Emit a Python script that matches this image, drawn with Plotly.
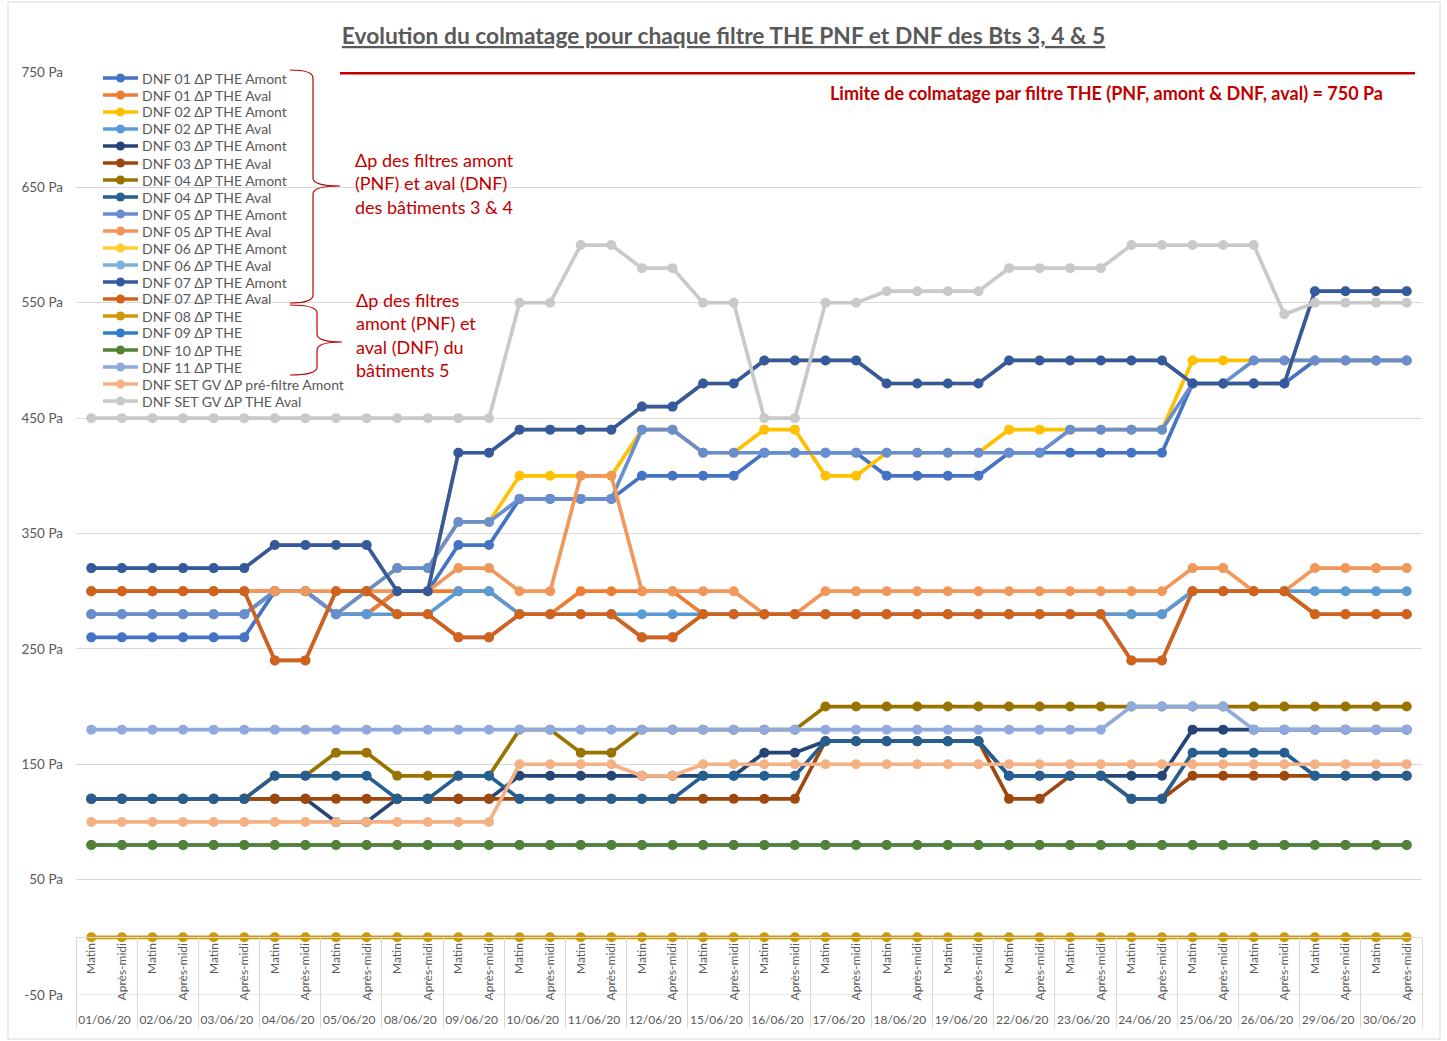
import plotly.graph_objects as go

# categories
dates = ['01/06/20', '02/06/20', '03/06/20', '04/06/20', '05/06/20', '08/06/20', '09/06/20',
         '10/06/20', '11/06/20', '12/06/20', '15/06/20', '16/06/20', '17/06/20', '18/06/20',
         '19/06/20', '22/06/20', '23/06/20', '24/06/20', '25/06/20', '26/06/20', '29/06/20',
         '30/06/20']
periods = ['Matin', 'Après-midi']

# delta P values (Pa), one value per half-day
dnf01_amont = [260, 260, 260, 260, 260, 260, 300, 300, 280, 280, 300, 300, 340, 340, 380, 380,
               380, 380, 400, 400, 400, 400, 420, 420, 420, 420, 400, 400, 400, 400, 420, 420,
               420, 420, 420, 420, 480, 480, 480, 480, 500, 500, 500, 500]
dnf01_aval = [300, 300, 300, 300, 300, 300, 300, 300, 280, 280, 300, 300, 300, 300, 280, 280,
              300, 300, 300, 300, 280, 280, 280, 280, 280, 280, 280, 280, 280, 280, 280, 280,
              280, 280, 280, 280, 300, 300, 300, 300, 280, 280, 280, 280]
dnf02_amont = [280, 280, 280, 280, 280, 280, 300, 300, 280, 300, 320, 320, 360, 360, 400, 400,
               400, 400, 440, 440, 420, 420, 440, 440, 400, 400, 420, 420, 420, 420, 440, 440,
               440, 440, 440, 440, 500, 500, 500, 500, 500, 500, 500, 500]
dnf02_aval = [280, 280, 280, 280, 280, 280, 300, 300, 280, 280, 280, 280, 300, 300, 280, 280,
              280, 280, 280, 280, 280, 280, 280, 280, 280, 280, 280, 280, 280, 280, 280, 280,
              280, 280, 280, 280, 300, 300, 300, 300, 300, 300, 300, 300]
dnf03_amont = [120, 120, 120, 120, 120, 120, 120, 120, 100, 100, 120, 120, 120, 120, 140, 140,
               140, 140, 140, 140, 140, 140, 160, 160, 170, 170, 170, 170, 170, 170, 140, 140,
               140, 140, 140, 140, 180, 180, 180, 180, 180, 180, 180, 180]
dnf03_aval = [120, 120, 120, 120, 120, 120, 120, 120, 120, 120, 120, 120, 120, 120, 120, 120,
              120, 120, 120, 120, 120, 120, 120, 120, 170, 170, 170, 170, 170, 170, 120, 120,
              140, 140, 120, 120, 140, 140, 140, 140, 140, 140, 140, 140]
dnf04_amont = [120, 120, 120, 120, 120, 120, 140, 140, 160, 160, 140, 140, 140, 140, 180, 180,
               160, 160, 180, 180, 180, 180, 180, 180, 200, 200, 200, 200, 200, 200, 200, 200,
               200, 200, 200, 200, 200, 200, 200, 200, 200, 200, 200, 200]
dnf04_aval = [120, 120, 120, 120, 120, 120, 140, 140, 140, 140, 120, 120, 140, 140, 120, 120,
              120, 120, 120, 120, 140, 140, 140, 140, 170, 170, 170, 170, 170, 170, 140, 140,
              140, 140, 120, 120, 160, 160, 160, 160, 140, 140, 140, 140]
dnf05_amont = [280, 280, 280, 280, 280, 280, 300, 300, 280, 300, 320, 320, 360, 360, 380, 380,
               380, 380, 440, 440, 420, 420, 420, 420, 420, 420, 420, 420, 420, 420, 420, 420,
               440, 440, 440, 440, 480, 480, 500, 500, 500, 500, 500, 500]
dnf05_aval = [300, 300, 300, 300, 300, 300, 300, 300, 300, 300, 300, 300, 320, 320, 300, 300,
              400, 400, 300, 300, 300, 300, 280, 280, 300, 300, 300, 300, 300, 300, 300, 300,
              300, 300, 300, 300, 320, 320, 300, 300, 320, 320, 320, 320]
dnf06_amont = [320, 320, 320, 320, 320, 320, 340, 340, 340, 340, 300, 300, 420, 420, 440, 440,
               440, 440, 460, 460, 480, 480, 500, 500, 500, 500, 480, 480, 480, 480, 500, 500,
               500, 500, 500, 500, 480, 480, 480, 480, 560, 560, 560, 560]
dnf06_aval = [300, 300, 300, 300, 300, 300, 240, 240, 300, 300, 280, 280, 260, 260, 280, 280,
              280, 280, 260, 260, 280, 280, 280, 280, 280, 280, 280, 280, 280, 280, 280, 280,
              280, 280, 240, 240, 300, 300, 300, 300, 280, 280, 280, 280]
dnf07_amont = [320, 320, 320, 320, 320, 320, 340, 340, 340, 340, 300, 300, 420, 420, 440, 440,
               440, 440, 460, 460, 480, 480, 500, 500, 500, 500, 480, 480, 480, 480, 500, 500,
               500, 500, 500, 500, 480, 480, 480, 480, 560, 560, 560, 560]
dnf07_aval = [300, 300, 300, 300, 300, 300, 240, 240, 300, 300, 280, 280, 260, 260, 280, 280,
              280, 280, 260, 260, 280, 280, 280, 280, 280, 280, 280, 280, 280, 280, 280, 280,
              280, 280, 240, 240, 300, 300, 300, 300, 280, 280, 280, 280]
dnf08 = [0, 0, 0, 0, 0, 0, 0, 0, 0, 0, 0, 0, 0, 0, 0, 0, 0, 0, 0, 0, 0, 0,
         0, 0, 0, 0, 0, 0, 0, 0, 0, 0, 0, 0, 0, 0, 0, 0, 0, 0, 0, 0, 0, 0]
dnf09 = [80, 80, 80, 80, 80, 80, 80, 80, 80, 80, 80, 80, 80, 80, 80, 80, 80, 80, 80, 80, 80, 80,
         80, 80, 80, 80, 80, 80, 80, 80, 80, 80, 80, 80, 80, 80, 80, 80, 80, 80, 80, 80, 80, 80]
dnf10 = [80, 80, 80, 80, 80, 80, 80, 80, 80, 80, 80, 80, 80, 80, 80, 80, 80, 80, 80, 80, 80, 80,
         80, 80, 80, 80, 80, 80, 80, 80, 80, 80, 80, 80, 80, 80, 80, 80, 80, 80, 80, 80, 80, 80]
dnf11 = [180, 180, 180, 180, 180, 180, 180, 180, 180, 180, 180, 180, 180, 180, 180, 180,
         180, 180, 180, 180, 180, 180, 180, 180, 180, 180, 180, 180, 180, 180, 180, 180,
         180, 180, 200, 200, 200, 200, 180, 180, 180, 180, 180, 180]
set_gv_prefiltre = [100, 100, 100, 100, 100, 100, 100, 100, 100, 100, 100, 100, 100, 100, 150, 150,
                    150, 150, 140, 140, 150, 150, 150, 150, 150, 150, 150, 150, 150, 150, 150, 150,
                    150, 150, 150, 150, 150, 150, 150, 150, 150, 150, 150, 150]
set_gv_the_aval = [450, 450, 450, 450, 450, 450, 450, 450, 450, 450, 450, 450, 450, 450, 550, 550,
                   600, 600, 580, 580, 550, 550, 450, 450, 550, 550, 560, 560, 560, 560, 580, 580,
                   580, 580, 600, 600, 600, 600, 600, 540, 550, 550, 550, 550]

limit = 750
y_ticks = [-50, 50, 150, 250, 350, 450, 550, 650, 750]

series = [
    ('DNF 01 ΔP THE Amont', dnf01_amont, '#4472C4'),
    ('DNF 01 ΔP THE Aval', dnf01_aval, '#ED7D31'),
    ('DNF 02 ΔP THE Amont', dnf02_amont, '#FFC000'),
    ('DNF 02 ΔP THE Aval', dnf02_aval, '#5B9BD5'),
    ('DNF 03 ΔP THE Amont', dnf03_amont, '#264478'),
    ('DNF 03 ΔP THE Aval', dnf03_aval, '#9E480E'),
    ('DNF 04 ΔP THE Amont', dnf04_amont, '#997300'),
    ('DNF 04 ΔP THE Aval', dnf04_aval, '#255E91'),
    ('DNF 05 ΔP THE Amont', dnf05_amont, '#698ED0'),
    ('DNF 05 ΔP THE Aval', dnf05_aval, '#F1975A'),
    ('DNF 06 ΔP THE Amont', dnf06_amont, '#FFCD33'),
    ('DNF 06 ΔP THE Aval', dnf06_aval, '#7CAFDD'),
    ('DNF 07 ΔP THE Amont', dnf07_amont, '#335AA1'),
    ('DNF 07 ΔP THE Aval', dnf07_aval, '#D2611A'),
    ('DNF 08 ΔP THE', dnf08, '#CC9A06'),
    ('DNF 09 ΔP THE', dnf09, '#2F7EC8'),
    ('DNF 10 ΔP THE', dnf10, '#548235'),
    ('DNF 11 ΔP THE', dnf11, '#8FAADC'),
    ('DNF SET GV ΔP pré-filtre Amont', set_gv_prefiltre, '#F4B183'),
    ('DNF SET GV ΔP THE Aval', set_gv_the_aval, '#C9C9C9'),
]

x_multi = [[d for d in dates for p in periods], [p for d in dates for p in periods]]

FONT = 'Lato, "Open Sans", sans-serif'
GREY = '#595959'
RED = '#C00000'

# plot area in pixels: left 76, right 1422, top 72, bottom 995
L, R, T, B = 76, 1422, 72, 995
def px(x):
    return (x - L) / (R - L)
def py(y):
    return (B - y) / (B - T)

fig = go.Figure()
for name, vals, col in series:
    fig.add_trace(go.Scatter(x=x_multi, y=vals, name=name, mode='lines+markers',
                             line=dict(color=col, width=3.7),
                             marker=dict(color=col, size=10), showlegend=False))

def brace(top, bottom, mid, spine, hook, tip, r=8):
    pts = [
        f'M {px(hook)},{py(top)}',
        f'Q {px(spine)},{py(top)} {px(spine)},{py(top + r)}',
        f'L {px(spine)},{py(mid - r)}',
        f'Q {px(spine)},{py(mid)} {px(tip)},{py(mid)}',
        f'Q {px(spine)},{py(mid)} {px(spine)},{py(mid + r)}',
        f'L {px(spine)},{py(bottom - r)}',
        f'Q {px(spine)},{py(bottom)} {px(hook)},{py(bottom)}',
    ]
    return dict(type='path', xref='paper', yref='paper', path=' '.join(pts),
                line=dict(color=RED, width=1.2))

shapes = [
    dict(type='line', xref='paper', yref='y', x0=0, x1=1, y0=-50, y1=-50,
         line=dict(color='#D9D9D9', width=1), layer='below'),
    dict(type='line', xref='paper', yref='y', x0=px(340), x1=px(1415), y0=limit, y1=limit,
         line=dict(color=RED, width=5)),
    brace(70, 303, 186, 313, 290, 340),
    brace(305, 375, 342, 317, 290, 342),
    dict(type='rect', xref='paper', yref='paper', x0=px(8), x1=px(1440), y0=py(1039), y1=py(2),
         line=dict(color='#D9D9D9', width=1)),
]

annotations = [
    dict(text='<b>Limite de colmatage par filtre THE (PNF, amont & DNF, aval) = 750 Pa</b>',
         xref='paper', yref='paper', x=px(1385), y=py(93), xanchor='right', yanchor='middle',
         showarrow=False, font=dict(family=FONT, size=18, color=RED)),
    dict(text='Δp des filtres amont<br>(PNF) et aval (DNF)<br>des bâtiments 3 & 4',
         xref='paper', yref='paper', x=px(353), y=py(147), xanchor='left', yanchor='top',
         align='left', showarrow=False, font=dict(family=FONT, size=18, color=RED)),
    dict(text='Δp des filtres<br>amont (PNF) et<br>aval (DNF) du<br>bâtiments 5',
         xref='paper', yref='paper', x=px(354), y=py(287), xanchor='left', yanchor='top',
         align='left', showarrow=False, font=dict(family=FONT, size=18, color=RED)),
]

# hand-drawn legend, rows 17 px apart like the original
for i, (name, vals, col) in enumerate(series):
    yy = 78 + 17 * i
    shapes.append(dict(type='line', xref='paper', yref='paper', x0=px(103), x1=px(138),
                       y0=py(yy), y1=py(yy), line=dict(color=col, width=3.5)))
    shapes.append(dict(type='circle', xref='paper', yref='paper', x0=px(116), x1=px(125),
                       y0=py(yy + 4.5), y1=py(yy - 4.5), fillcolor=col, line=dict(width=0)))
    annotations.append(dict(text=name, xref='paper', yref='paper', x=px(140), y=py(yy),
                            xanchor='left', yanchor='middle', showarrow=False,
                            font=dict(family=FONT, size=14, color=GREY)))

fig.update_layout(
    width=1447, height=1041,
    margin=dict(l=L, r=1447 - R, t=T, b=1041 - B),
    paper_bgcolor='white', plot_bgcolor='white',
    font=dict(family=FONT, color=GREY),
    showlegend=False,
    title=dict(text='<b><u>Evolution du colmatage pour chaque filtre THE PNF et DNF des Bts 3, 4 & 5</u></b>',
               x=0.5, xref='container', xanchor='center', y=1 - 36 / 1041, yref='container',
               yanchor='middle', font=dict(family=FONT, size=22.8, color=GREY)),
    yaxis=dict(range=[-50, 750], tickvals=y_ticks, ticktext=[f'{v} Pa' for v in y_ticks],
               showgrid=True, gridcolor='#D9D9D9', gridwidth=1, zeroline=False, showline=False,
               ticks='', ticklabelstandoff=12, automargin=False,
               tickfont=dict(family=FONT, size=13.5, color=GREY)),
    xaxis=dict(type='multicategory', anchor='free', position=50 / 800, showline=True,
               range=[-0.5, len(x_multi[0]) - 0.5], automargin=False,
               linecolor='#D9D9D9', linewidth=1, showgrid=False, tickangle=-90,
               tickfont=dict(family=FONT, size=12, color=GREY), showdividers=True,
               dividercolor='#D9D9D9', dividerwidth=1),
    shapes=shapes,
    annotations=annotations,
    hovermode='closest',
)

# page body has a default 8px margin; drop it so the chart sits at the window origin
fig.write_html('out.html', config={'displayModeBar': False},
               post_script="document.body.style.margin='0px';")
